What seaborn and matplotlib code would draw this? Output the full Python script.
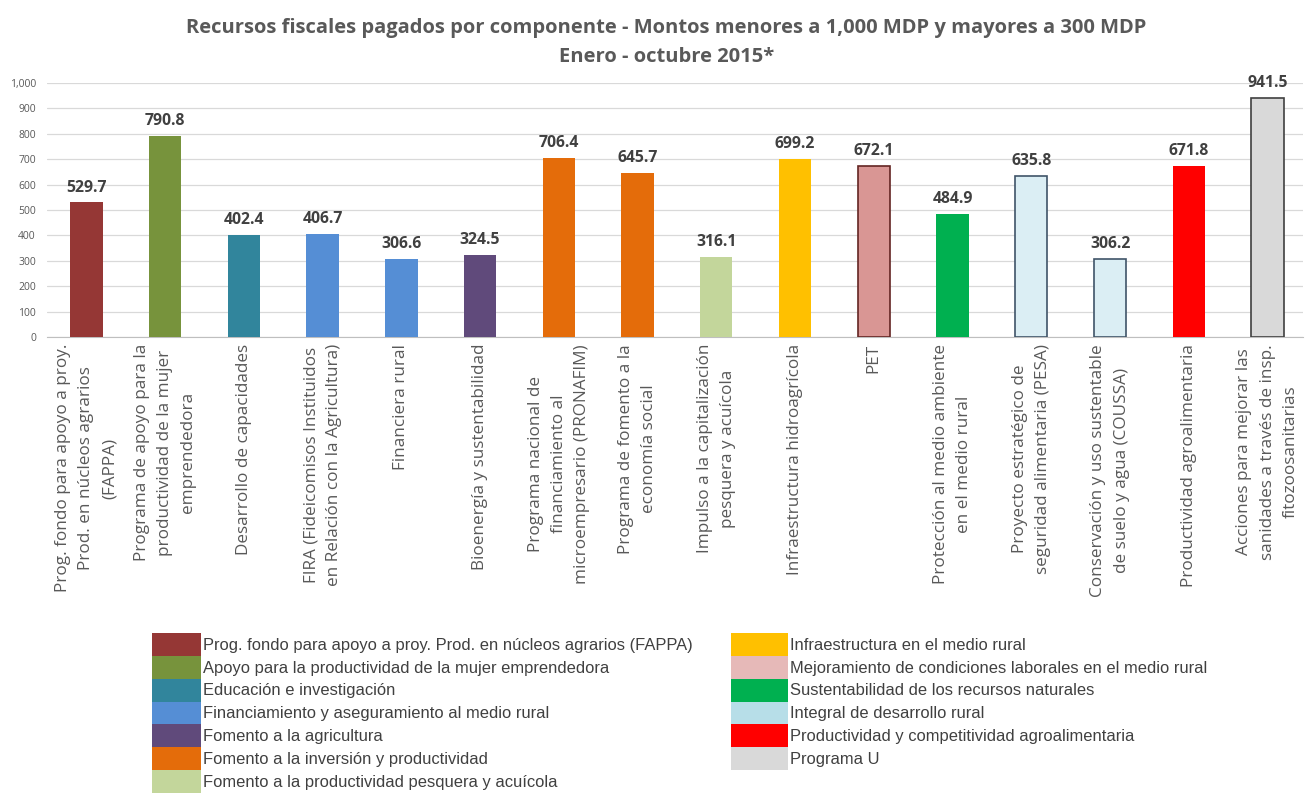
import matplotlib
matplotlib.use("Agg")
import matplotlib.pyplot as plt
from matplotlib.patches import Patch
from matplotlib.ticker import FuncFormatter
import seaborn as sns
import pandas as pd

# datos
componentes = [
    "Prog. fondo para apoyo a proy.\nProd. en núcleos agrarios\n(FAPPA)",
    "Programa de apoyo para la\nproductividad de la mujer\nemprendedora",
    "Desarrollo de capacidades",
    "FIRA (Fideicomisos Instituidos\nen Relación con la Agricultura)",
    "Financiera rural",
    "Bioenergía y sustentabilidad",
    "Programa nacional de\nfinanciamiento al\nmicroempresario (PRONAFIM)",
    "Programa de fomento a la\neconomía social",
    "Impulso a la capitalización\npesquera y acuícola",
    "Infraestructura hidroagrícola",
    "PET",
    "Protección al medio ambiente\nen el medio rural",
    "Proyecto estratégico de\nseguridad alimentaria (PESA)",
    "Conservación y uso sustentable\nde suelo y agua (COUSSA)",
    "Productividad agroalimentaria",
    "Acciones para mejorar las\nsanidades a través de insp.\nfitozoosanitarias",
]
montos = [529.7, 790.8, 402.4, 406.7, 306.6, 324.5, 706.4, 645.7, 316.1,
          699.2, 672.1, 484.9, 635.8, 306.2, 671.8, 941.5]

programas_col1 = [
    "Prog. fondo para apoyo a proy. Prod. en núcleos agrarios (FAPPA)",
    "Apoyo para la productividad de la mujer emprendedora",
    "Educación e investigación",
    "Financiamiento y aseguramiento al medio rural",
    "Fomento a la agricultura",
    "Fomento a la inversión y productividad",
    "Fomento a la productividad pesquera y acuícola",
]
programas_col2 = [
    "Infraestructura en el medio rural",
    "Mejoramiento de condiciones laborales en el medio rural",
    "Sustentabilidad de los recursos naturales",
    "Integral de desarrollo rural",
    "Productividad y competitividad agroalimentaria",
    "Programa U",
]

# colores
bar_colors = ["#953735", "#77933C", "#31859C", "#558ED5", "#558ED5", "#604A7B",
              "#E46C0A", "#E46C0A", "#C3D69B", "#FFC000", "#D99694", "#00B050",
              "#DBEEF4", "#DBEEF4", "#FF0000", "#D9D9D9"]
edge_colors = [None] * 10 + ["#632523", None, "#3F5468", "#3F5468", None, "#404040"]
leg_colors1 = ["#953735", "#77933C", "#31859C", "#558ED5", "#604A7B", "#E46C0A", "#C3D69B"]
leg_colors2 = ["#FFC000", "#E6B9B8", "#00B050", "#B7DEE8", "#FF0000", "#D9D9D9"]

df = pd.DataFrame({"componente": componentes, "monto": montos})

sns.set_style("white")
plt.rcParams['font.family'] = ['Open Sans', 'DejaVu Sans']

W, H = 1307, 794
fig = plt.figure(figsize=(W / 100, H / 100), dpi=100)
ax = fig.add_axes([47 / W, 1 - 337 / H, (1303 - 47) / W, (337 - 83) / H])

sns.barplot(data=df, x="componente", y="monto", hue="componente",
            palette=bar_colors, legend=False, width=0.41, saturation=1,
            ax=ax, zorder=3)

for patch, ec in zip(ax.patches, edge_colors):
    if ec is not None:
        patch.set_edgecolor(ec)
        patch.set_linewidth(1.2)
    else:
        patch.set_linewidth(0)

for cont in ax.containers:
    ax.bar_label(cont, fmt="{:.1f}", padding=5, fontsize=11.3,
                 fontweight="bold", color="#404040")

ax.set_xlim(-0.5, 15.45)
ax.set_ylim(0, 1000)
ax.set_yticks(range(0, 1001, 100))
ax.yaxis.set_major_formatter(FuncFormatter(lambda v, p: f"{int(v):,}"))
ax.grid(axis="y", color="#D9D9D9", linewidth=0.9, zorder=0)
ax.grid(axis="x", visible=False)
for s in ["top", "right", "left"]:
    ax.spines[s].set_visible(False)
ax.spines["bottom"].set_color("#BFBFBF")
ax.set_xlabel("")
ax.set_ylabel("")
ax.tick_params(axis="y", length=0, labelsize=7.5, labelcolor="#595959", pad=8)
ax.tick_params(axis="x", length=0, labelsize=12.3, labelcolor="#595959", pad=5)
for lbl in ax.get_xticklabels():
    lbl.set_rotation(90)
    lbl.set_ha("center")
    lbl.set_va("top")
    lbl.set_linespacing(1.6)

fig.text(0.51, 0.977,
         "Recursos fiscales pagados por componente - Montos menores a 1,000 MDP y mayores a 300 MDP\nEnero - octubre 2015*",
         ha="center", va="top", fontsize=14.5, fontweight="bold",
         color="#595959", linespacing=1.6)

# leyenda en dos columnas
h1 = [Patch(facecolor=c, edgecolor="none") for c in leg_colors1]
h2 = [Patch(facecolor=c, edgecolor="none") for c in leg_colors2]
leg_kw = dict(frameon=False, labelspacing=0, borderpad=0,
              borderaxespad=0, handleheight=1.75, handletextpad=0.12,
              prop={"family": "Liberation Sans", "size": 11.9})
leg1 = fig.legend(h1, programas_col1, loc="upper left",
                  bbox_to_anchor=(152 / W, 1 - 633 / H), handlelength=2.95, **leg_kw)
leg2 = fig.legend(h2, programas_col2, loc="upper left",
                  bbox_to_anchor=(731 / W, 1 - 633 / H), handlelength=3.45, **leg_kw)
for leg in (leg1, leg2):
    for t in leg.get_texts():
        t.set_color("#404040")

fig.savefig("out.png", dpi=100)
